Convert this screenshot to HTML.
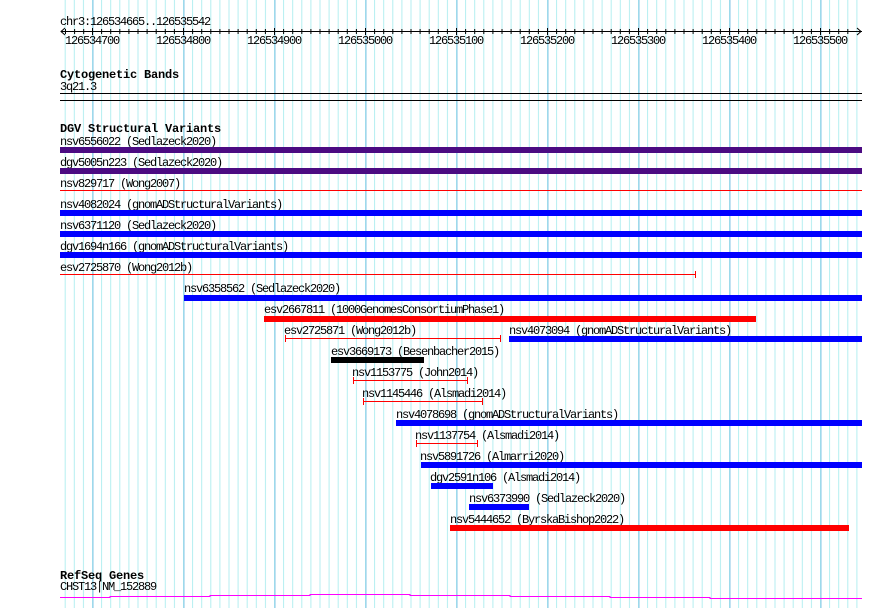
<!DOCTYPE html>
<html><head><meta charset="utf-8"><style>
html,body{margin:0;padding:0;background:#fff}
svg{display:block}
text{font-family:"Liberation Mono",monospace;font-size:12px;letter-spacing:-1.2px;fill:#000}
.b{font-weight:bold;font-size:12px;letter-spacing:-0.2px}
</style></head><body>
<svg width="890" height="608" xmlns="http://www.w3.org/2000/svg">
<defs>
<pattern id="g" x="1.0" y="0" width="9.1" height="10" patternUnits="userSpaceOnUse">
<rect x="0" y="0" width="1" height="10" fill="#b4eef0"/>
</pattern>
<pattern id="G" x="1.5" y="0" width="91" height="10" patternUnits="userSpaceOnUse">
<rect x="0" y="0" width="1" height="10" fill="#86c6e6"/>
</pattern>
</defs>
<rect x="59" y="0" width="804" height="608" fill="url(#g)"/>
<rect x="59" y="0" width="804" height="608" fill="url(#G)"/>

<text x="60" y="25">chr3:126534665..126535542</text>
<line x1="61" y1="31.5" x2="862" y2="31.5" stroke="#000"/>
<path d="M65,28 L61,31.5 L65,35 M857,28 L861,31.5 L857,35" stroke="#000" fill="none"/>
<g stroke="#000">
<path d="M65.5,29v5M74.6,29v5M83.7,29v5M92.5,28v7M101.6,29v5M110.7,29v5M119.8,29v5M128.9,29v5M138,29v5M147.1,29v5M156.2,29v5M165.3,29v5M174.4,29v5M183.5,28v7M192.6,29v5M201.7,29v5M210.8,29v5M219.9,29v5M229,29v5M238.1,29v5M247.2,29v5M256.3,29v5M265.4,29v5M274.5,28v7M283.6,29v5M292.7,29v5M301.8,29v5M310.9,29v5M320,29v5M329.1,29v5M338.2,29v5M347.3,29v5M356.4,29v5M365.5,28v7M374.6,29v5M383.7,29v5M392.8,29v5M401.9,29v5M411,29v5M420.1,29v5M429.2,29v5M438.3,29v5M447.4,29v5M456.5,28v7M465.6,29v5M474.7,29v5M483.8,29v5M492.9,29v5M502,29v5M511.1,29v5M520.2,29v5M529.3,29v5M538.4,29v5M547.5,28v7M556.6,29v5M565.7,29v5M574.8,29v5M583.9,29v5M593,29v5M602.1,29v5M611.2,29v5M620.3,29v5M629.4,29v5M638.5,28v7M647.6,29v5M656.7,29v5M665.8,29v5M674.9,29v5M684,29v5M693.1,29v5M702.2,29v5M711.3,29v5M720.4,29v5M729.5,28v7M738.6,29v5M747.7,29v5M756.8,29v5M765.9,29v5M775,29v5M784.1,29v5M793.2,29v5M802.3,29v5M811.4,29v5M820.5,28v7M829.6,29v5M838.7,29v5M847.8,29v5"/>
</g>
<g>
<text x="65" y="44">126534700</text><text x="156" y="44">126534800</text><text x="247" y="44">126534900</text><text x="338" y="44">126535000</text><text x="429" y="44">126535100</text><text x="520" y="44">126535200</text><text x="611" y="44">126535300</text><text x="702" y="44">126535400</text><text x="793" y="44">126535500</text>
</g>

<text class="b" x="60" y="78">Cytogenetic Bands</text>
<text x="60" y="90">3q21.3</text>
<rect x="60" y="93" width="802" height="1" fill="#000"/>
<rect x="60" y="100" width="802" height="1" fill="#000"/>

<text class="b" x="60" y="132">DGV Structural Variants</text>

<text x="60" y="145">nsv6556022 (Sedlazeck2020)</text>
<rect x="60" y="147" width="802" height="6" fill="#4b0b82"/>
<text x="60" y="166">dgv5005n223 (Sedlazeck2020)</text>
<rect x="60" y="168" width="802" height="6" fill="#4b0b82"/>
<text x="60" y="187">nsv829717 (Wong2007)</text>
<rect x="60" y="190" width="802" height="1" fill="#ff0000"/>
<text x="60" y="208">nsv4082024 (gnomADStructuralVariants)</text>
<rect x="60" y="210" width="802" height="6" fill="#0000ff"/>
<text x="60" y="229">nsv6371120 (Sedlazeck2020)</text>
<rect x="60" y="231" width="802" height="6" fill="#0000ff"/>
<text x="60" y="250">dgv1694n166 (gnomADStructuralVariants)</text>
<rect x="60" y="252" width="802" height="6" fill="#0000ff"/>
<text x="60" y="271">esv2725870 (Wong2012b)</text>
<rect x="60" y="274" width="636" height="1" fill="#ff0000"/>
<rect x="695" y="271" width="1" height="7" fill="#ff0000"/>
<text x="184" y="292">nsv6358562 (Sedlazeck2020)</text>
<rect x="184" y="295" width="678" height="6" fill="#0000ff"/>
<text x="264" y="313">esv2667811 (1000GenomesConsortiumPhase1)</text>
<rect x="264" y="316" width="492" height="6" fill="#ff0000"/>
<text x="284" y="334">esv2725871 (Wong2012b)</text>
<rect x="285" y="338" width="216" height="1" fill="#ff0000"/>
<rect x="285" y="335" width="1" height="7" fill="#ff0000"/><rect x="500" y="335" width="1" height="7" fill="#ff0000"/>
<text x="509" y="334">nsv4073094 (gnomADStructuralVariants)</text>
<rect x="509" y="336" width="353" height="6" fill="#0000ff"/>
<text x="331" y="355">esv3669173 (Besenbacher2015)</text>
<rect x="331" y="357" width="93" height="6" fill="#000"/>
<text x="352" y="376">nsv1153775 (John2014)</text>
<rect x="353" y="380" width="114" height="1" fill="#ff0000"/>
<rect x="353" y="377" width="1" height="7" fill="#ff0000"/><rect x="467" y="377" width="1" height="7" fill="#ff0000"/>
<text x="362" y="397">nsv1145446 (Alsmadi2014)</text>
<rect x="363" y="401" width="119" height="1" fill="#ff0000"/>
<rect x="363" y="398" width="1" height="7" fill="#ff0000"/><rect x="482" y="398" width="1" height="7" fill="#ff0000"/>
<text x="396" y="418">nsv4078698 (gnomADStructuralVariants)</text>
<rect x="396" y="420" width="466" height="6" fill="#0000ff"/>
<text x="415" y="439">nsv1137754 (Alsmadi2014)</text>
<rect x="416" y="443" width="61" height="1" fill="#ff0000"/>
<rect x="416" y="440" width="1" height="7" fill="#ff0000"/><rect x="477" y="440" width="1" height="7" fill="#ff0000"/>
<text x="420" y="460">nsv5891726 (Almarri2020)</text>
<rect x="421" y="462" width="441" height="6" fill="#0000ff"/>
<text x="430" y="481">dgv2591n106 (Alsmadi2014)</text>
<rect x="431" y="483" width="62" height="6" fill="#0000ff"/>
<text x="469" y="502">nsv6373990 (Sedlazeck2020)</text>
<rect x="469" y="504" width="60" height="6" fill="#0000ff"/>
<text x="450" y="523">nsv5444652 (ByrskaBishop2022)</text>
<rect x="450" y="525" width="399" height="6" fill="#ff0000"/>

<text class="b" x="60" y="579">RefSeq Genes</text>
<text x="60" y="590">CHST13|NM_152889</text>
<path d="M60,597.5H110V596.5H210V595.5H310V594.5H410V595.5H510V596.5H610V597.5H710V598.5H862" stroke="#ff00ff" fill="none"/>
</svg>
</body></html>
